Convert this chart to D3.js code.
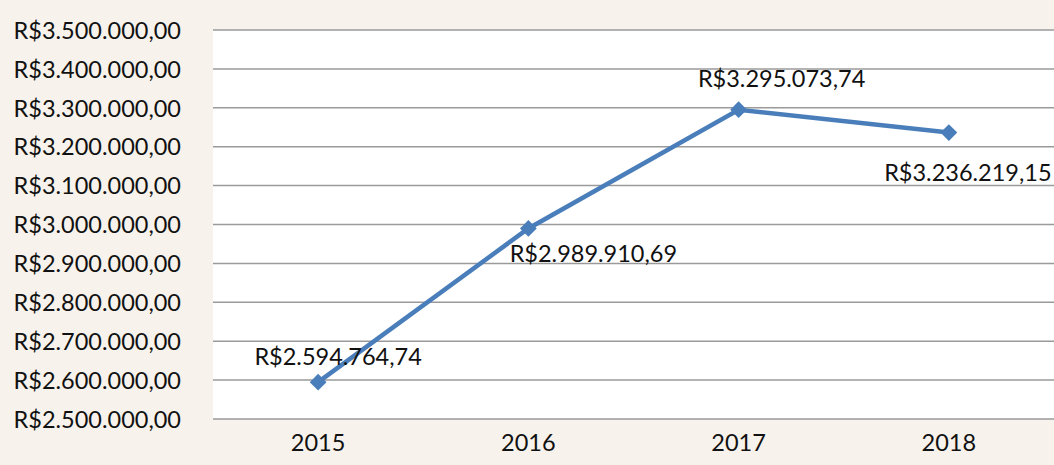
<!DOCTYPE html>
<meta charset="utf-8">
<script src="https://d3js.org/d3.v7.min.js"></script>
<style>
body { margin: 0; background: #f7f3ec; }
svg { display: block; }
.grid line { stroke: #9a9a9a; stroke-width: 1.5px; }
svg text { font-family: Lato, "Open Sans", sans-serif; font-size: 23.5px; fill: #111; }
</style>
<body></body>
<script>
var years = ['2015', '2016', '2017', '2018'];
var values = [2594764.74, 2989910.69, 3295073.74, 3236219.15];
var yTicks = [2500000, 2600000, 2700000, 2800000, 2900000, 3000000, 3100000, 3200000, 3300000, 3400000, 3500000];

var W = 1054, H = 465;
var margin = {top: 30, right: 0, bottom: 46, left: 213};
var width = W - margin.left - margin.right;
var height = H - margin.top - margin.bottom;

var brl = function(v) {
  var parts = v.toFixed(2).split('.');
  return 'R$' + parts[0].replace(/\B(?=(\d{3})+(?!\d))/g, '.') + ',' + parts[1];
};

var svg = d3.select('body').append('svg')
    .attr('width', W)
    .attr('height', H);

var g = svg.append('g')
    .attr('transform', 'translate(' + margin.left + ',' + margin.top + ')');

var x = d3.scaleBand().domain(years).range([0, width]);
var y = d3.scaleLinear().domain([2500000, 3500000]).range([height, 0]);

// plot area
g.append('rect')
  .attr('width', width)
  .attr('height', height)
  .attr('fill', '#fff');

// gridlines
g.append('g')
  .attr('class', 'grid')
  .selectAll('line')
  .data(yTicks).enter().append('line')
  .attr('x1', 0)
  .attr('x2', width)
  .attr('y1', function(d) { return y(d); })
  .attr('y2', function(d) { return y(d); });

// y axis labels
var yAxis = d3.axisLeft(y).tickValues(yTicks).tickFormat(brl).tickSize(0).tickPadding(32);
g.append('g').call(yAxis)
  .call(function(s) { s.select('.domain').remove(); })
  .selectAll('text').attr('dy', '0.35em');

// x axis labels
var xAxis = d3.axisBottom(x).tickSize(0).tickPadding(24);
g.append('g')
  .attr('transform', 'translate(0,' + height + ')')
  .call(xAxis)
  .call(function(s) { s.select('.domain').remove(); })
  .selectAll('text').attr('dy', '0.35em');

var cx = function(d, i) { return x(years[i]) + x.bandwidth() / 2; };

var line = d3.line()
  .x(function(d, i) { return cx(d, i); })
  .y(function(d) { return y(d); });

g.append('path')
  .datum(values)
  .attr('fill', 'none')
  .attr('stroke', '#4a7ebb')
  .attr('stroke-width', 4.5)
  .attr('d', line);

g.selectAll('.pt')
  .data(values).enter().append('path')
  .attr('class', 'pt')
  .attr('d', d3.symbol().type(d3.symbolDiamond2).size(180))
  .attr('fill', '#4a7ebb')
  .attr('transform', function(d, i) { return 'translate(' + cx(d, i) + ',' + y(d) + ')'; });

// data labels, offsets relative to each point
var labelOffset = [[20, -17], [65, 34], [43, -23], [19, 48]];
g.selectAll('.lbl')
  .data(values).enter().append('text')
  .attr('class', 'lbl')
  .attr('text-anchor', 'middle')
  .attr('x', function(d, i) { return cx(d, i) + labelOffset[i][0]; })
  .attr('y', function(d, i) { return y(d) + labelOffset[i][1]; })
  .text(brl);
</script>
